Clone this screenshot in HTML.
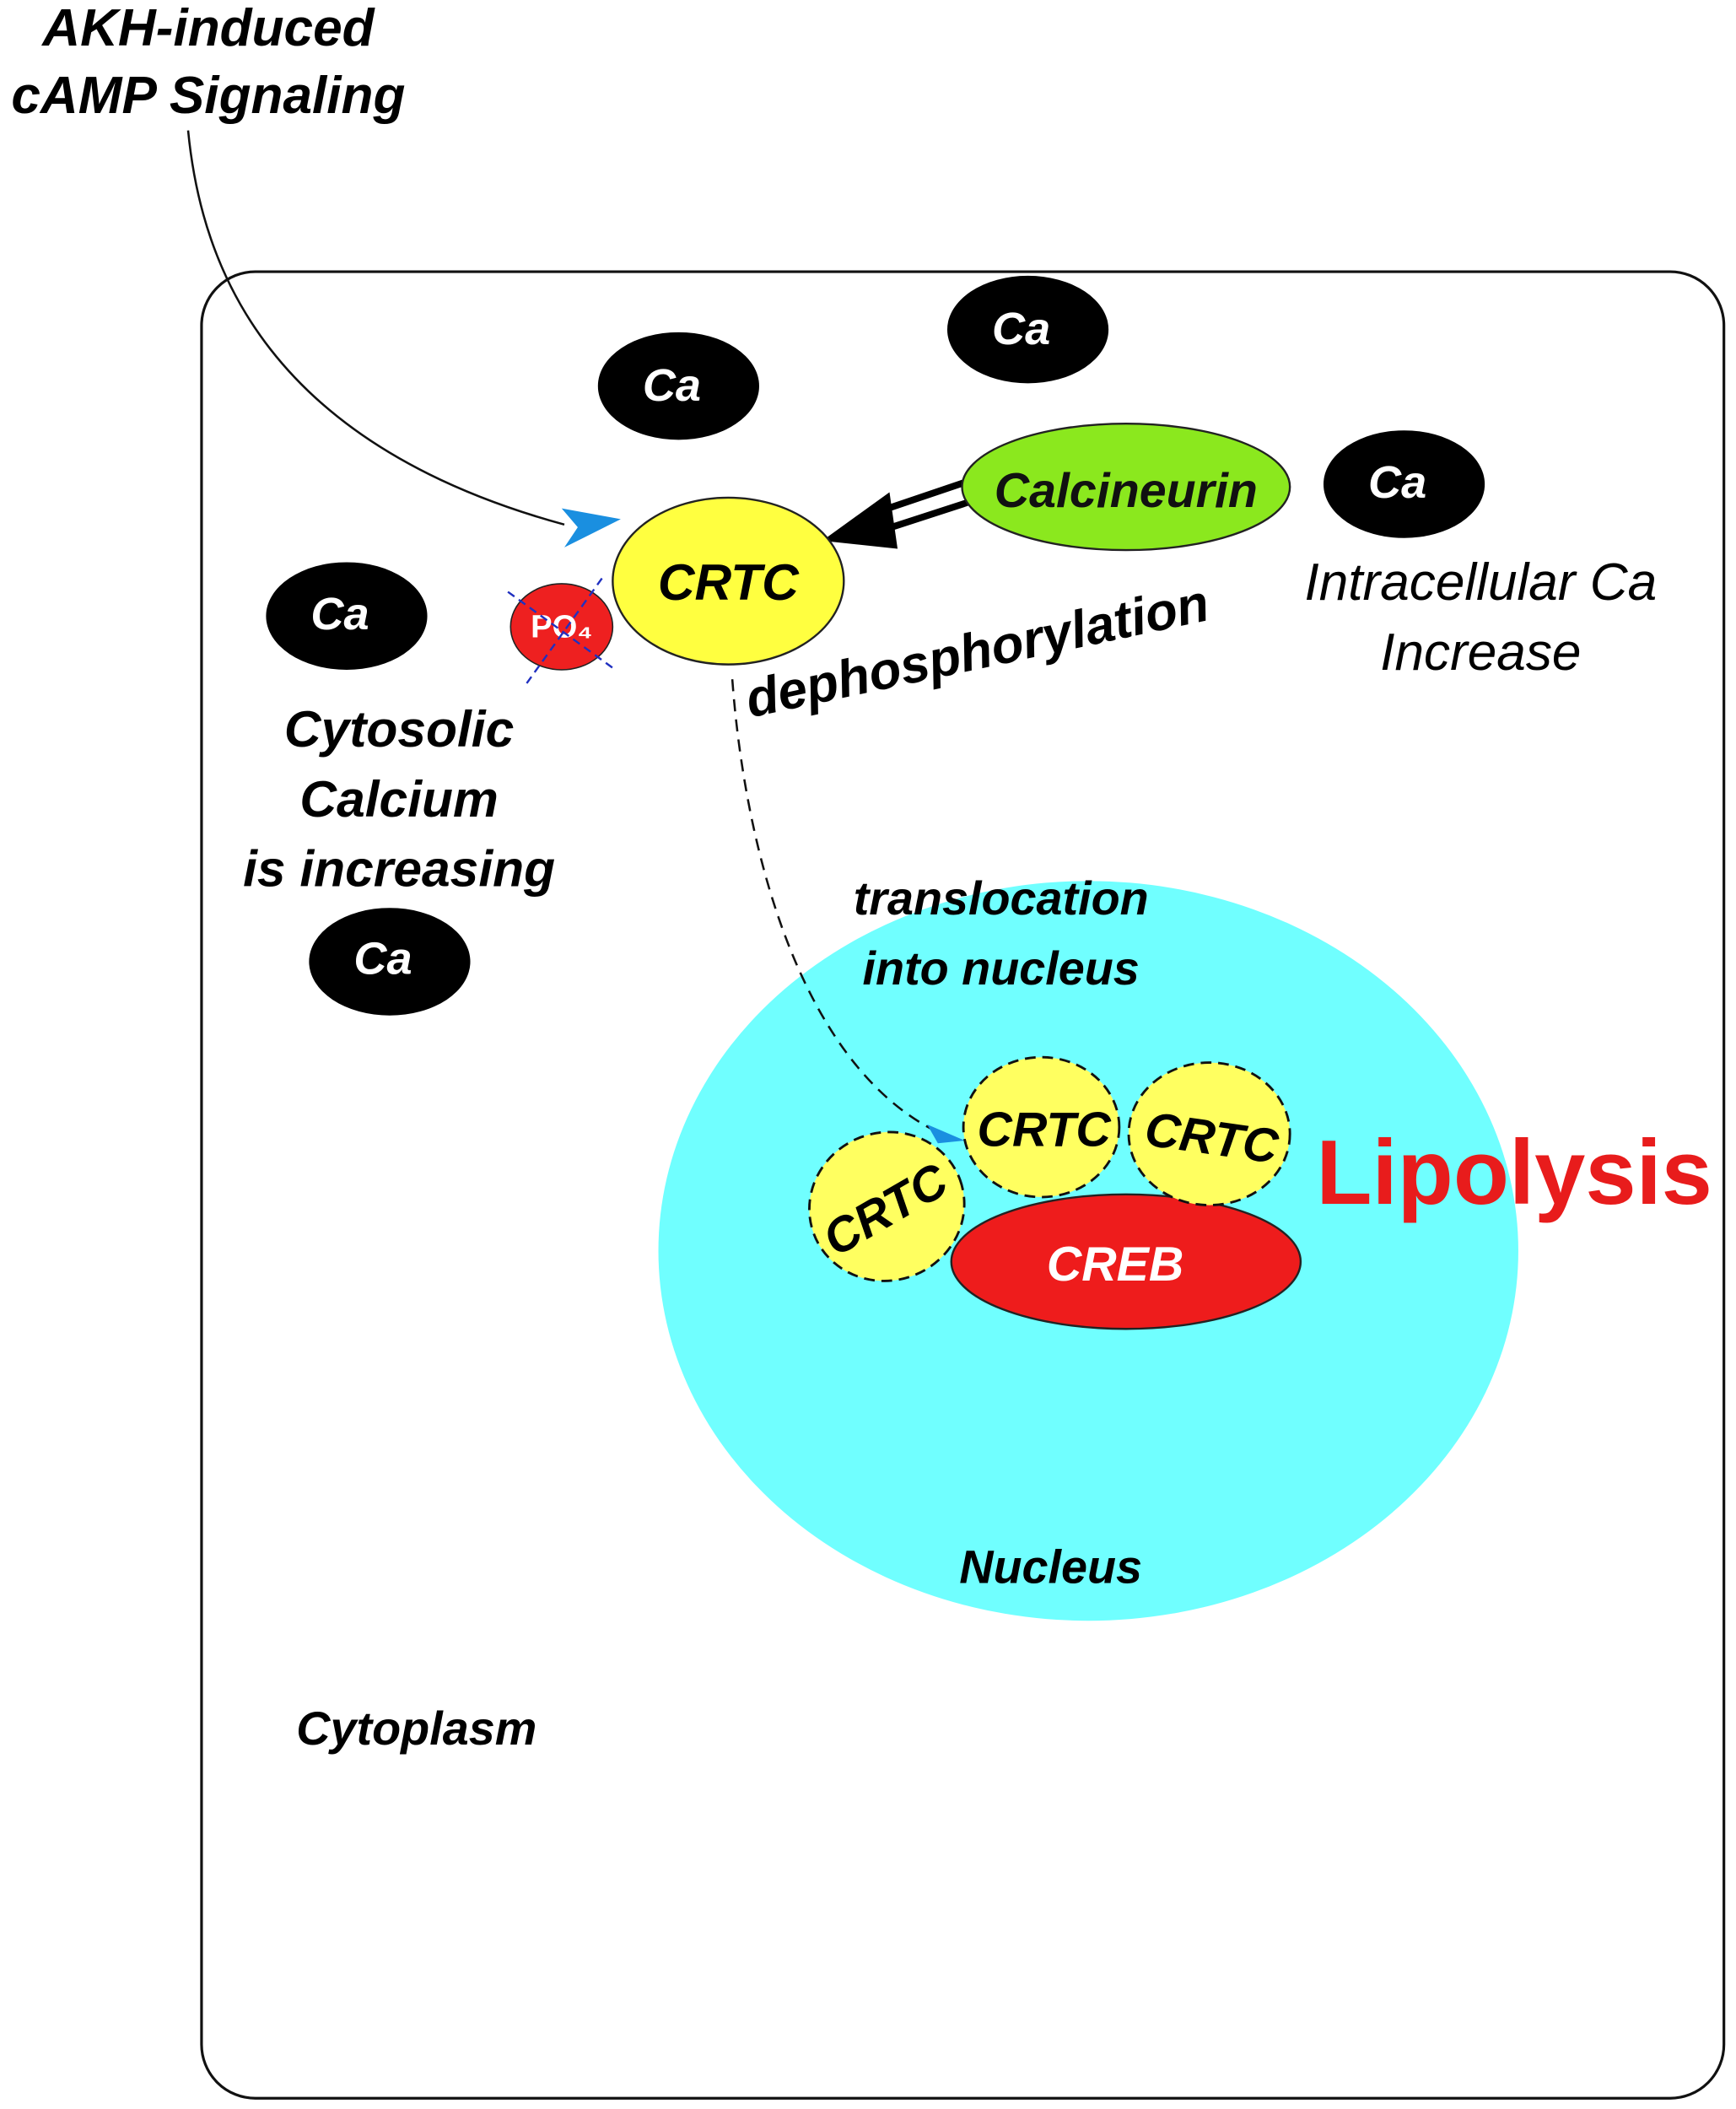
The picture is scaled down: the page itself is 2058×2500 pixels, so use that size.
<!DOCTYPE html>
<html><head><meta charset="utf-8"><style>
html,body{margin:0;padding:0;background:#fff;}
svg{display:block;}
text{font-family:"Liberation Sans",sans-serif;}
.bi{font-weight:bold;font-style:italic;}
</style></head><body>
<svg width="2058" height="2500" viewBox="0 0 1292 1568" preserveAspectRatio="none" xmlns="http://www.w3.org/2000/svg">
<rect x="150" y="202" width="1133" height="1358" rx="40" ry="40" fill="#fff" stroke="#111" stroke-width="2"/>
<text class="bi" x="155" y="34" font-size="39" text-anchor="middle">AKH-induced</text>
<text class="bi" x="155" y="84" font-size="39" text-anchor="middle">cAMP Signaling</text>
<path d="M140 97 C150 200 200 330 420 390" fill="none" stroke="#111" stroke-width="1.6"/>
<path d="M462 386 L418 378 L430 392 L420 407 Z" fill="#1a8fe0"/>
<ellipse cx="810" cy="930" rx="320" ry="275" fill="#70ffff"/>
<g fill="#000">
<ellipse cx="505" cy="287" rx="60" ry="40"/>
<ellipse cx="765" cy="245" rx="60" ry="40"/>
<ellipse cx="1045" cy="360" rx="60" ry="40"/>
<ellipse cx="258" cy="458" rx="60" ry="40"/>
<ellipse cx="290" cy="715" rx="60" ry="40"/>
</g>
<g fill="#fff" class="bi" font-size="34" text-anchor="middle">
<text x="500" y="298">Ca</text>
<text x="760" y="256">Ca</text>
<text x="1040" y="370">Ca</text>
<text x="253" y="468">Ca</text>
<text x="285" y="724">Ca</text>
</g>
<path d="M720 358 L640 385 M725 372 L645 398" stroke="#000" stroke-width="5"/>
<path d="M612 402 L662 366 L668 408 Z" fill="#000"/>
<ellipse cx="838" cy="362" rx="122" ry="47" fill="#8be81e" stroke="#222" stroke-width="1.5"/>
<text class="bi" x="838" y="377" font-size="36" text-anchor="middle" fill="#111">Calcineurin</text>
<ellipse cx="418" cy="466" rx="38" ry="32" fill="#ee2020" stroke="#222" stroke-width="1"/>
<text x="418" y="474" font-size="24" font-weight="bold" fill="#fff" text-anchor="middle">PO₄</text>
<path d="M378 440 L458 498 M448 430 L392 508" stroke="#2030c0" stroke-width="1.5" stroke-dasharray="6 4"/>
<ellipse cx="542" cy="432" rx="86" ry="62" fill="#ffff40" stroke="#222" stroke-width="1.5"/>
<text class="bi" x="542" y="446" font-size="38" text-anchor="middle">CRTC</text>
<text class="bi" x="0" y="0" font-size="39" text-anchor="middle" transform="translate(730 497) rotate(-12)">dephosphorylation</text>
<text x="1102" y="446" font-size="39" font-style="italic" text-anchor="middle">Intracellular Ca</text>
<text x="1102" y="498" font-size="39" font-style="italic" text-anchor="middle">Increase</text>
<text class="bi" x="297" y="555" font-size="38" text-anchor="middle">Cytosolic</text>
<text class="bi" x="297" y="607" font-size="38" text-anchor="middle">Calcium</text>
<text class="bi" x="297" y="659" font-size="38" text-anchor="middle">is increasing</text>
<path d="M545 505 C555 640 600 800 705 845" fill="none" stroke="#111" stroke-width="1.6" stroke-dasharray="9 6"/>
<path d="M718 848 L690 836 L698 850 Z" fill="#1a8fe0"/>
<text class="bi" x="745" y="680" font-size="35" text-anchor="middle">translocation</text>
<text class="bi" x="745" y="732" font-size="35" text-anchor="middle">into nucleus</text>
<ellipse cx="838" cy="938" rx="130" ry="50" fill="#ee1c1c" stroke="#222" stroke-width="1.5"/>
<text class="bi" x="830" y="952" font-size="36" fill="#fff" text-anchor="middle">CREB</text>
<g fill="#ffff60" stroke="#111" stroke-width="1.8" stroke-dasharray="8 5">
<ellipse cx="660" cy="897" rx="58" ry="55" transform="rotate(-20 660 897)"/>
<ellipse cx="775" cy="838" rx="58" ry="52"/>
<ellipse cx="900" cy="843" rx="60" ry="53"/>
</g>
<text class="bi" font-size="36" text-anchor="middle" transform="translate(665 910) rotate(-30)">CRTC</text>
<text class="bi" x="777" y="852" font-size="36" text-anchor="middle">CRTC</text>
<text class="bi" font-size="36" text-anchor="middle" transform="translate(900 858) rotate(8)">CRTC</text>
<text x="1127" y="895" font-size="68" font-weight="bold" fill="#e81c1c" text-anchor="middle">Lipolysis</text>
<text class="bi" x="782" y="1177" font-size="35" text-anchor="middle">Nucleus</text>
<text class="bi" x="310" y="1297" font-size="35" text-anchor="middle">Cytoplasm</text>
</svg>
</body></html>
